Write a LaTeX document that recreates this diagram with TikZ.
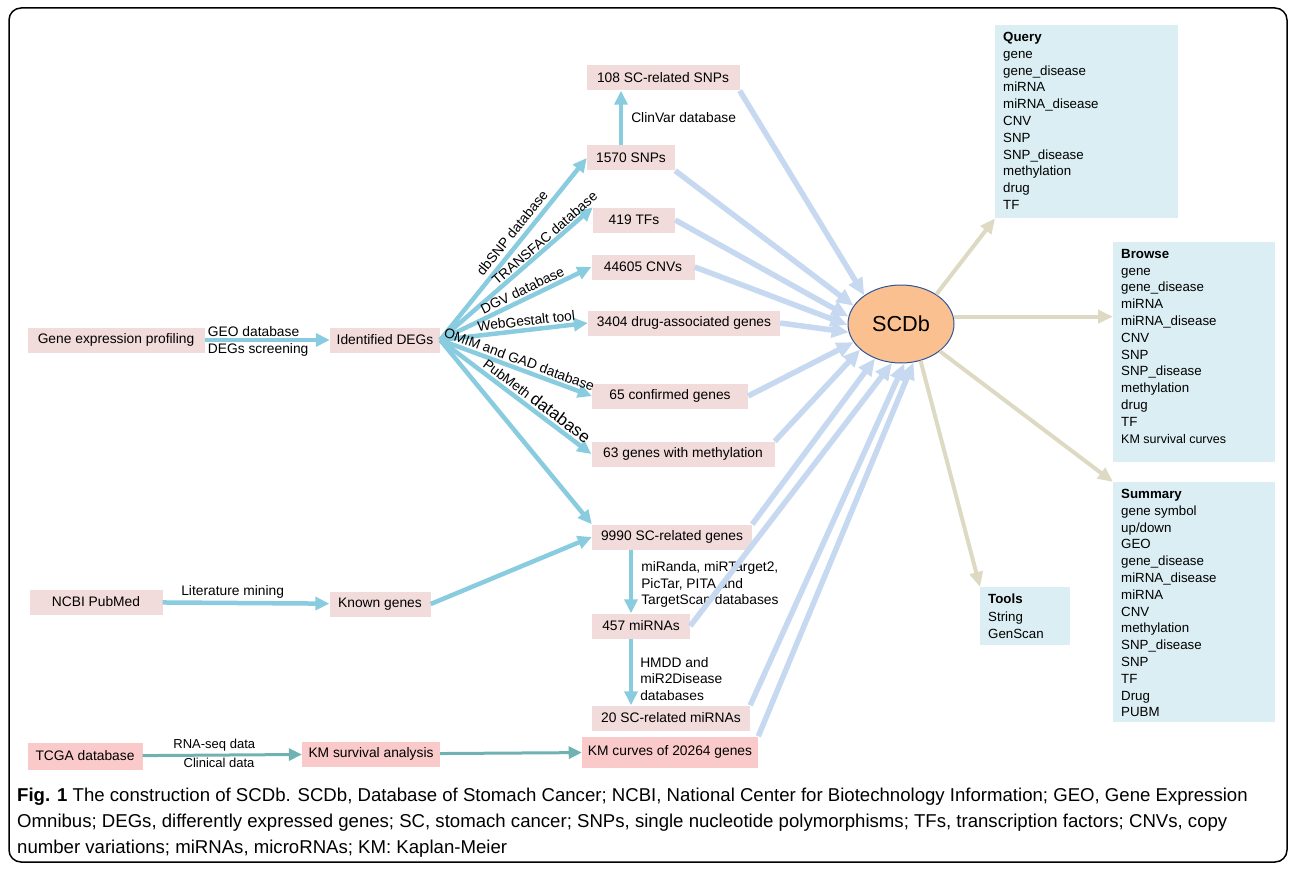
\documentclass[tikz,border=0pt]{standalone}
\usepackage{fontspec}
\setmainfont{Liberation Sans}
\newfontfamily\capfont{Liberation Sans}
\usetikzlibrary{arrows.meta,shapes.geometric}

\definecolor{boxpink}{RGB}{242,220,219}
\definecolor{kmpink}{RGB}{250,202,202}
\definecolor{flowblue}{RGB}{137,203,223}
\definecolor{inblue}{RGB}{198,217,240}
\definecolor{outtan}{RGB}{221,217,195}
\definecolor{panelblue}{RGB}{219,238,243}
\definecolor{kmteal}{RGB}{112,178,178}
\definecolor{dbfill}{RGB}{250,192,144}
\definecolor{dbline}{RGB}{47,85,151}

\newcommand{\panelbody}[3]{\begin{minipage}[t][#1][t]{#2}\raggedright #3\end{minipage}}

\tikzset{
  databox/.style={fill=boxpink, minimum height=25pt, inner xsep=6pt, font=\fontsize{13.8}{16}\selectfont},
  kmbox/.style={databox, fill=kmpink},
  panel/.style={fill=panelblue, anchor=north west, inner xsep=8pt, inner ysep=7pt, font=\fontsize{13.3}{16.8}\selectfont},
  flow/.style={draw=flowblue, line width=4.5pt, -{Triangle[length=14pt,width=13pt]}},
  kmflow/.style={draw=kmteal, line width=3pt, -{Triangle[length=13pt,width=12pt]}},
  todb/.style={draw=inblue, line width=5.5pt, -{Triangle[length=17pt,width=15pt]}},
  fromdb/.style={draw=outtan, line width=4pt, -{Triangle[length=15pt,width=13pt]}},
  lbl/.style={font=\fontsize{13.8}{16.5}\selectfont, inner sep=2pt},
}

\begin{document}
\begin{tikzpicture}[x=1pt,y=-1pt]
    \useasboundingbox (0,0) rectangle (1292,869);

    % Outer frame
    \draw[line width=1.5pt, rounded corners=12pt] (9,8) rectangle (1287,862);

    % Source and result boxes
    \node[databox, minimum width=177pt] (gep) at (116,340) {Gene expression profiling};
    \node[databox, minimum width=110pt] (degs) at (385,340) {Identified DEGs};
    \node[databox, minimum width=153pt] (snp108) at (663,78) {108 SC-related SNPs};
    \node[databox, minimum width=88pt] (snp) at (631,158) {1570 SNPs};
    \node[databox, minimum width=82pt] (tf) at (634,220) {419 TFs};
    \node[databox, minimum width=103pt] (cnv) at (643,267) {44605 CNVs};
    \node[databox, minimum width=192pt] (drug) at (684,323) {3404 drug-associated genes};
    \node[databox, minimum width=156pt] (conf) at (670,396) {65 confirmed genes};
    \node[databox, minimum width=183pt] (meth) at (683,454) {63 genes with methylation};
    \node[databox, minimum width=160pt] (scgenes) at (672,537) {9990 SC-related genes};
    \node[databox, minimum width=98pt] (mirna) at (641,626) {457 miRNAs};
    \node[databox, minimum width=158pt] (scmirna) at (671,718) {20 SC-related miRNAs};
    \node[kmbox, minimum width=173pt, minimum height=31pt] (kmcurves) at (670,752) {KM curves of 20264 genes};
    \node[databox, minimum width=133pt] (pubmed) at (96,602) {NCBI PubMed};
    \node[databox, minimum width=101pt] (known) at (380,604) {Known genes};
    \node[kmbox, minimum width=115pt, minimum height=27pt] (tcga) at (85,756) {TCGA database};
    \node[kmbox, minimum width=138pt] (kmsa) at (371,754) {KM survival analysis};

    % Database
    \node[ellipse, draw=dbline, line width=1pt, fill=dbfill, minimum width=106pt, minimum height=78pt,
          font=\fontsize{21.7}{24}\selectfont] (scdb) at (901,324) {SCDb};

    % Function panels
    \node[panel, minimum width=183pt, minimum height=193pt] (query) at (995,25)
        {\panelbody{179pt}{167pt}{\textbf{Query}\\gene\\gene\_disease\\miRNA\\miRNA\_disease\\CNV\\SNP\\SNP\_disease\\methylation\\drug\\TF}};
    \node[panel, minimum width=162pt, minimum height=220pt] (browse) at (1113,242)
        {\panelbody{206pt}{146pt}{\textbf{Browse}\\gene\\gene\_disease\\miRNA\\miRNA\_disease\\CNV\\SNP\\SNP\_disease\\methylation\\drug\\TF\\{\fontsize{12.5}{15}\selectfont KM survival curves}}};
    \node[panel, minimum width=162pt, minimum height=240pt] (summary) at (1113,482)
        {\panelbody{226pt}{146pt}{\textbf{Summary}\\gene symbol\\up/down\\GEO\\gene\_disease\\miRNA\_disease\\miRNA\\CNV\\methylation\\SNP\_disease\\SNP\\TF\\Drug\\PUBM}};
    \node[panel, minimum width=90pt, minimum height=58pt, font=\fontsize{13.3}{17.5}\selectfont] (tools) at (980,587)
        {\panelbody{44pt}{74pt}{\textbf{Tools}\\String\\GenScan}};

    % Pipeline arrows
    \draw[flow] (gep) -- (degs)
        node[lbl, pos=0, anchor=south west, inner sep=1pt] {GEO database}
        node[lbl, pos=0, anchor=north west, inner sep=1pt] {DEGs screening};
    \draw[flow] (degs.east) -- (snp.west) node[lbl, sloped, above, pos=0.55, inner sep=4pt] {dbSNP database};
    \draw[flow] (degs.east) -- (tf.north west) node[lbl, sloped, above, pos=0.72, inner sep=1pt] {TRANSFAC database};
    \draw[flow] (degs.east) -- (cnv.west) node[lbl, sloped, above, pos=0.57] {DGV database};
    \draw[flow] (degs.east) -- (drug.west) node[lbl, sloped, above, pos=0.59] {WebGestalt tool};
    \draw[flow] (degs.east) -- (conf.west) node[lbl, sloped, above, pos=0.5] {OMIM and GAD database};
    \draw[flow] (degs.east) -- (meth.west) node[lbl, sloped, above, pos=0.6] {PubMeth {\fontsize{17}{19}\selectfont database}};
    \draw[flow] (degs.east) -- (scgenes.north west);
    \draw[flow] (snp.north -| 621,0) -- (snp108.south -| 621,0)
        node[lbl, right, pos=0.5, xshift=6pt] {ClinVar database};
    \draw[flow] (pubmed) -- (known) node[lbl, above, pos=0.42] {Literature mining};
    \draw[flow] (known.east) -- (scgenes.west);
    \draw[flow] (scgenes.south -| 631,0) -- (mirna.north -| 631,0)
        node[lbl, right, align=left, pos=0.55, xshift=6pt] {miRanda, miRTarget2,\\PicTar, PITA and\\TargetScan databases};
    \draw[flow] (mirna.south -| 631,0) -- (scmirna.north -| 631,0)
        node[lbl, right, align=left, pos=0.6, xshift=5pt] {HMDD and\\miR2Disease\\databases};
    \draw[kmflow] (tcga) -- (kmsa)
        node[lbl, above, pos=0.45, font=\fontsize{13}{15}\selectfont] {RNA-seq data}
        node[lbl, below, pos=0.48, font=\fontsize{13}{15}\selectfont] {Clinical data};
    \draw[kmflow] (kmsa) -- (kmcurves);

    % Arrows into SCDb
    \draw[todb] (snp108.south east) -- (scdb.142);
    \draw[todb] (snp.south east) -- (scdb.159);
    \draw[todb] (tf.east) -- (scdb.172);
    \draw[todb] (cnv.east) -- (scdb.181);
    \draw[todb] (drug.east) -- (scdb.189);
    \draw[todb] (conf.east) -- (scdb.201);
    \draw[todb] (meth.north east) -- (scdb.212);
    \draw[todb] (scgenes.north east) -- (scdb.233);
    \draw[todb] (mirna.east) -- (scdb.257);
    \draw[todb] (scmirna.north east) -- (scdb.275);
    \draw[todb] (kmcurves.north east) -- (scdb.288);

    % Arrows out of SCDb
    \draw[fromdb] (scdb.40) -- (query.south west);
    \draw[fromdb] (scdb.8) -- (scdb.8 -| browse.west);
    \draw[fromdb] (scdb.-35) -- (summary.north west);
    \draw[fromdb] (scdb.-62) -- (tools.north west);

    % Caption
    \node[anchor=north west, align=left, inner sep=0pt, font=\capfont\fontsize{18.6}{26}\selectfont] (caption) at (17,788)
        {\textbf{Fig. 1} The construction of SCDb. SCDb, Database of Stomach Cancer; NCBI, National Center for Biotechnology Information; GEO, Gene Expression\\
         Omnibus; DEGs, differently expressed genes; SC, stomach cancer; SNPs, single nucleotide polymorphisms; TFs, transcription factors; CNVs, copy\\
         number variations; miRNAs, microRNAs; KM: Kaplan-Meier};
\end{tikzpicture}
\end{document}
